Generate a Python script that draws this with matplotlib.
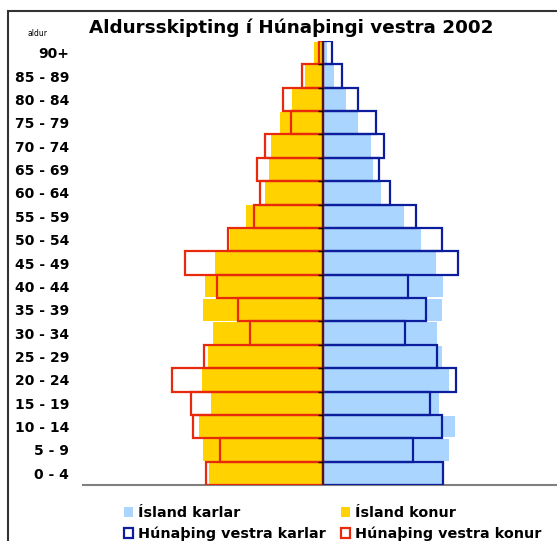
import numpy as np
import matplotlib.pyplot as plt
from matplotlib.patches import Patch, Rectangle

plt.rcParams['font.family'] = ['DejaVu Sans']

# aldurshópar, frá yngstu til elstu
aldur = ['0 - 4', '5 - 9', '10 - 14', '15 - 19', '20 - 24', '25 - 29', '30 - 34',
         '35 - 39', '40 - 44', '45 - 49', '50 - 54', '55 - 59', '60 - 64',
         '65 - 69', '70 - 74', '75 - 79', '80 - 84', '85 - 89', '90+']

# hlutfall af mannfjölda (%)
island_karlar = [3.71, 3.93, 4.12, 3.62, 3.93, 3.71, 3.55, 3.71, 3.75, 3.53,
                 3.06, 2.53, 1.81, 1.56, 1.50, 1.09, 0.71, 0.34, 0.13]
island_konur = [3.56, 3.75, 3.88, 3.50, 3.78, 3.59, 3.44, 3.75, 3.69, 3.38,
                2.90, 2.40, 1.81, 1.69, 1.63, 1.34, 0.97, 0.55, 0.28]
hun_karlar = [3.74, 2.81, 3.72, 3.34, 4.17, 3.56, 2.56, 3.22, 2.66, 4.22,
              3.72, 2.91, 2.08, 1.74, 1.91, 1.66, 1.08, 0.59, 0.28]
hun_konur = [3.66, 3.22, 4.06, 4.13, 4.73, 3.73, 2.29, 2.66, 3.31, 4.32,
             2.98, 2.16, 1.98, 2.06, 1.82, 1.00, 1.25, 0.67, 0.13]

blar = '#aad5ff'
gulur = '#ffd200'
raudur = '#e8290c'
dokkblar = '#0c1e9e'

fig = plt.figure(figsize=(5.57, 5.41), dpi=100)
ax = fig.add_axes([83 / 557, 1 - 485 / 541, 480 / 557, 444 / 541])

y = np.arange(len(aldur))
kk = np.array(island_karlar)
kv = np.array(island_konur)
hk = np.array(hun_karlar)
hv = np.array(hun_konur)

# hvítur grunnur undir útlínusúlum
ax.barh(y, hk, height=1.0, color='white', zorder=1)
ax.barh(y, -hv, height=1.0, color='white', zorder=1)
# Ísland
ax.barh(y, kk, height=0.93, color=blar, zorder=2)
ax.barh(y, -kv, height=0.93, color=gulur, zorder=2)
# Húnaþing vestra - útlínur
ax.barh(y, hk, height=1.0, fill=False, edgecolor=dokkblar, lw=1.6, zorder=3)
ax.barh(y, -hv, height=1.0, fill=False, edgecolor=raudur, lw=1.6, zorder=3)

ax.axvline(0, color='#5a1212', lw=1.5, zorder=4)
ax.hlines(y[1:] - 0.5, -0.15, 0, color='black', lw=1, zorder=5)

ax.set_xlim(-7.5, 7.5)
ax.set_ylim(-0.5, len(aldur) - 0.5)
ax.set_xticks([])
ax.set_yticks(y, aldur, fontsize=10, fontweight='bold')
ax.tick_params(axis='y', length=0, pad=10)
for s in ['top', 'right', 'left']:
    ax.spines[s].set_visible(False)
ax.spines['bottom'].set_color('#808080')
ax.spines['bottom'].set_linewidth(1.5)

fig.text(291 / 557, 1 - 28 / 541, 'Aldursskipting í Húnaþingi vestra 2002',
         ha='center', va='center', fontsize=13.2, fontweight='bold')
fig.text(37 / 557, 1 - 33 / 541, 'aldur', ha='center', va='center', fontsize=5.5)

# rammi utan um myndina
fig.patches.append(Rectangle((8 / 557, -0.2), 1.2, 1.2 - 11 / 541,
                             transform=fig.transFigure, fill=False,
                             edgecolor='#333333', lw=1.5))

handles = [Patch(facecolor=blar, edgecolor='none'),
           Patch(facecolor='white', edgecolor=dokkblar, lw=1.6),
           Patch(facecolor=gulur, edgecolor='none'),
           Patch(facecolor='white', edgecolor=raudur, lw=1.6)]
labels = ['Ísland karlar', 'Húnaþing vestra karlar', 'Ísland konur', 'Húnaþing vestra konur']
leg = fig.legend(handles, labels, ncol=2, loc='upper left',
                 bbox_to_anchor=(124 / 557, 1 - 506 / 541), frameon=False,
                 prop={'size': 10.4, 'weight': 'bold'}, handlelength=0.65,
                 handleheight=0.65, handletextpad=0.35, columnspacing=1.0,
                 labelspacing=0.45, borderpad=0, borderaxespad=0)

fig.savefig('out.png', dpi=100)
